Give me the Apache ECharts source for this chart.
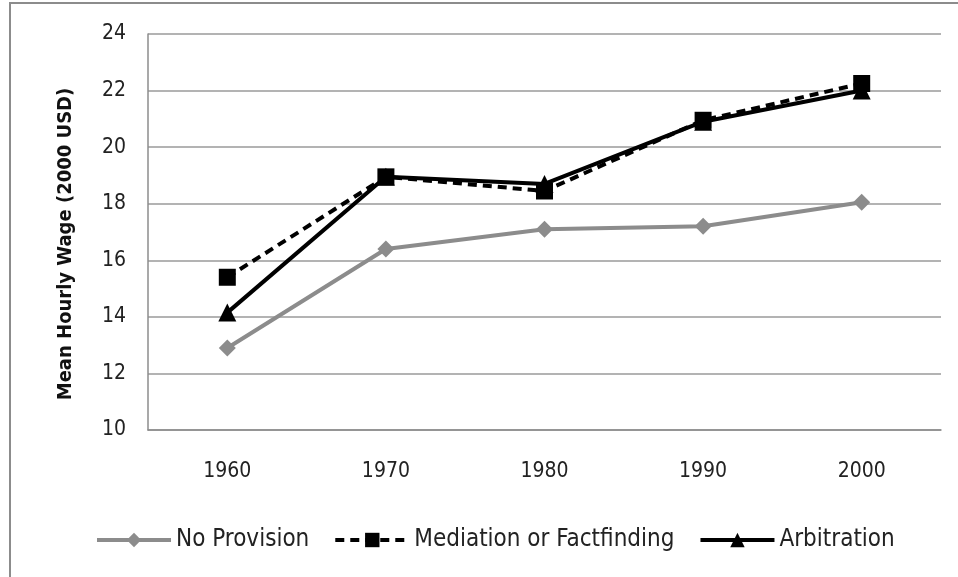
<!DOCTYPE html>
<html>
<head>
<meta charset="utf-8">
<script src="https://cdn.jsdelivr.net/npm/echarts@6/dist/echarts.min.js"></script>
<style>
  html, body { margin: 0; padding: 0; background: #fff; }
  #chart { width: 958px; height: 577px; }
</style>
</head>
<body>
<div id="chart"></div>
<script>
// data
const years = ['1960', '1970', '1980', '1990', '2000']
const noProvision = [12.9, 16.4, 17.1, 17.2, 18.05]
const mediation = [15.4, 18.95, 18.45, 20.95, 22.25]
const arbitration = [14.15, 18.95, 18.7, 20.9, 22.0]

const font = '"Liberation Sans Narrow", "DejaVu Sans Condensed", sans-serif'

const chart = echarts.init(document.getElementById('chart'))

chart.setOption({
  animation: false,
  backgroundColor: '#fff',
  graphic: [
    {
      type: 'rect',
      shape: { x: 10, y: 3, width: 990, height: 620 },
      style: { fill: 'none', stroke: '#8c8c8c', lineWidth: 2 },
      silent: true
    }
  ],
  grid: { left: 148, right: 17, top: 34, bottom: 147 },
  legend: {
    bottom: 20,
    left: 90,
    itemWidth: 74,
    itemHeight: 18,
    itemGap: 24,
    itemStyle: { borderWidth: 0 },
    lineStyle: { width: 4 },
    textStyle: { fontFamily: font, fontSize: 24, color: '#222' },
    data: ['No Provision', 'Mediation or Factfinding', 'Arbitration']
  },
  xAxis: {
    type: 'category',
    data: years,
    boundaryGap: true,
    axisLine: { lineStyle: { color: '#8c8c8c', width: 1.5 } },
    axisTick: { show: false },
    axisLabel: { fontFamily: font, fontSize: 21, color: '#222', margin: 31 }
  },
  yAxis: {
    type: 'value',
    min: 10,
    max: 24,
    interval: 2,
    name: 'Mean Hourly Wage (2000 USD)',
    nameLocation: 'middle',
    nameGap: 72,
    nameRotate: 90,
    nameTextStyle: {
      fontFamily: font, fontSize: 20, fontWeight: 'bold', color: '#111',
      padding: [0, 24, 0, 0]
    },
    axisLine: { show: true, lineStyle: { color: '#8c8c8c', width: 1.5 } },
    axisTick: { show: false },
    axisLabel: { fontFamily: font, fontSize: 21, color: '#222', margin: 22 },
    splitLine: { lineStyle: { color: '#9a9a9a', width: 1.5 } }
  },
  series: [
    {
      name: 'No Provision',
      type: 'line',
      data: noProvision,
      symbol: 'diamond',
      symbolSize: 17,
      lineStyle: { color: '#8c8c8c', width: 4 },
      itemStyle: { color: '#8c8c8c' }
    },
    {
      name: 'Mediation or Factfinding',
      type: 'line',
      data: mediation,
      symbol: 'rect',
      symbolSize: 17,
      lineStyle: { color: '#000', width: 4, type: [9, 6] },
      itemStyle: { color: '#000' }
    },
    {
      name: 'Arbitration',
      type: 'line',
      data: arbitration,
      symbol: 'triangle',
      symbolSize: 18,
      lineStyle: { color: '#000', width: 4 },
      itemStyle: { color: '#000' }
    }
  ]
})
</script>
</body>
</html>
